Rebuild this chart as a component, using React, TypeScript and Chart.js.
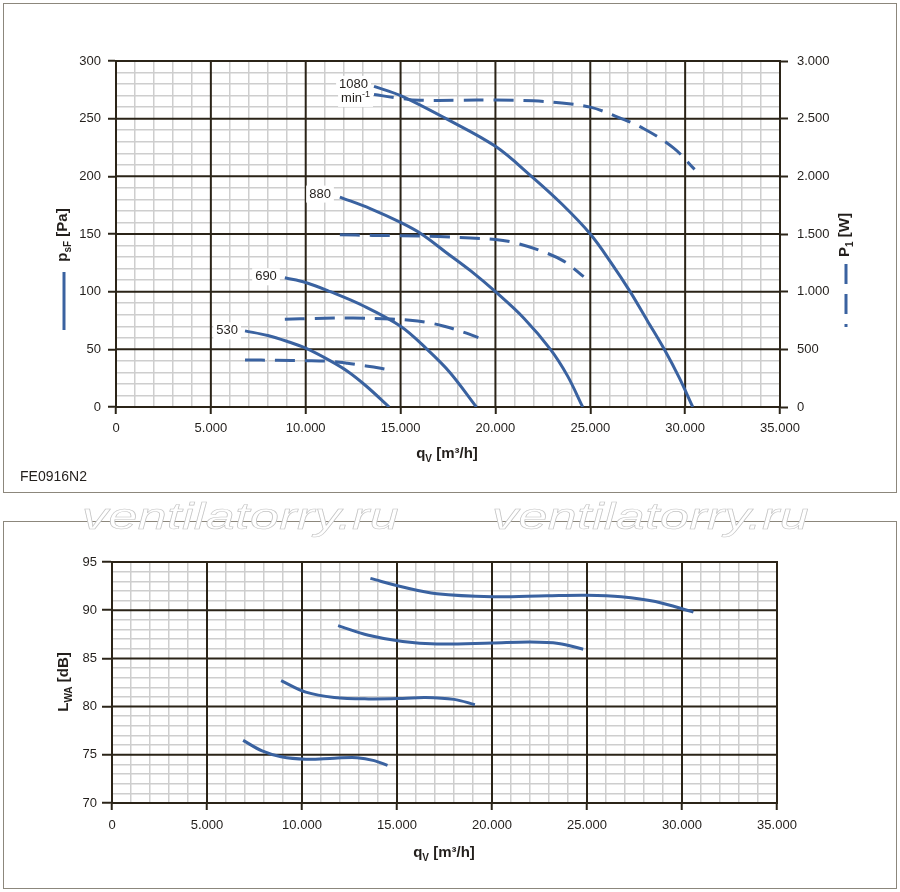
import React, { useEffect, useRef } from "react";
import { Chart, registerables } from "chart.js";

Chart.register(...registerables);

const FONT = '"Liberation Sans", Arial, Helvetica, sans-serif';
const INK = "#231f1c";
const GRID_DARK = "#2b2418";
const GRID_LIGHT = "#cecece";
const BLUE = "#3a62a0";

// speed labels (min-1)
const speeds = ["1080", "880", "690", "530"];

// static pressure psF [Pa] over qV [m3/h]
const qv1080 = [13600, 15000, 17400, 20000, 21900, 23500, 25000, 26100, 27100, 28000, 28900, 29700, 30400];
const ps1080 = [278, 270, 250, 226, 200, 176, 150, 125, 100, 75, 50, 25, 0];
const qv880 = [11800, 13400, 15000, 16100, 17400, 18700, 20000, 21500, 22900, 23800, 24600];
const ps880 = [182, 172, 160, 150, 134, 118, 100, 77, 50, 27, 0];
const qv690 = [8900, 10000, 11300, 13000, 15000, 16400, 17600, 19000];
const ps690 = [112, 108, 100, 88, 70, 50, 30, 0];
const qv530 = [6800, 8000, 9000, 10000, 11300, 12200, 13200, 14400];
const ps530 = [66, 62, 57, 51, 40, 31, 18, 0];

// input power P1 [W] over qV [m3/h]
const pq1080 = [13600, 15000, 16000, 18000, 20000, 22000, 23500, 25000, 26200, 27800, 29400, 30500];
const pw1080 = [2710, 2675, 2660, 2660, 2662, 2655, 2635, 2600, 2530, 2415, 2245, 2060];
const pq880 = [11800, 13500, 15000, 17000, 18700, 20000, 21000, 22300, 23600, 24650];
const pw880 = [1494, 1488, 1485, 1478, 1465, 1452, 1425, 1360, 1265, 1130];
const pq690 = [8900, 10500, 12500, 14500, 15500, 16500, 17300, 18200, 19100];
const pw690 = [760, 768, 772, 762, 752, 730, 700, 655, 602];
const pq530 = [6800, 8500, 10000, 11300, 12200, 13000, 13800, 14400];
const pw530 = [408, 405, 402, 396, 380, 360, 340, 322];

// sound power LWA [dB] over qV [m3/h]
const nq1080 = [13600, 15300, 17100, 20000, 22900, 25000, 26800, 28600, 30600];
const lw1080 = [93.3, 92.4, 91.7, 91.4, 91.5, 91.55, 91.4, 90.9, 89.8];
const nq880 = [11900, 13500, 15300, 17100, 20000, 22000, 23500, 24800];
const lw880 = [88.4, 87.4, 86.75, 86.5, 86.6, 86.7, 86.55, 85.95];
const nq690 = [8900, 10200, 11700, 13500, 15300, 16500, 18000, 19100];
const lw690 = [82.7, 81.5, 80.95, 80.8, 80.85, 80.95, 80.75, 80.2];
const nq530 = [6900, 7900, 8900, 10200, 11700, 12900, 13800, 14500];
const lw530 = [76.5, 75.4, 74.8, 74.55, 74.65, 74.7, 74.4, 73.9];

const pts = (xs: number[], ys: number[]) => xs.map((x, i) => ({ x, y: ys[i] }));

const fmt = (v: number) =>
  v < 1000 ? String(v) : `${Math.floor(v / 1000)}.${String(v % 1000).padStart(3, "0")}`;

function curve(xs: number[], ys: number[], dashed: boolean, axis = "y") {
  return {
    data: pts(xs, ys),
    borderColor: BLUE,
    borderWidth: 3,
    borderDash: dashed ? [20, 10] : [],
    pointRadius: 0,
    tension: 0.35,
    fill: false,
    yAxisID: axis,
  };
}

type Part = { t: string; sub?: boolean; sup?: boolean };

function rich(
  ctx: CanvasRenderingContext2D,
  parts: Part[],
  x: number,
  y: number,
  size: number,
  bold: boolean,
  align: "left" | "center" | "right" = "center",
  rot = 0,
  bg = false
) {
  ctx.save();
  ctx.translate(x, y);
  ctx.rotate(rot);
  const fontFor = (p: Part) =>
    `${bold ? "bold " : ""}${p.sub || p.sup ? Math.round(size * 0.68) : size}px ${FONT}`;
  let total = 0;
  const widths = parts.map((p) => {
    ctx.font = fontFor(p);
    const w = ctx.measureText(p.t).width;
    total += w;
    return w;
  });
  let cx = align === "center" ? -total / 2 : align === "right" ? -total : 0;
  if (bg) {
    ctx.fillStyle = "#ffffff";
    ctx.fillRect(cx - 3, -size / 2 - 2, total + 6, size + 4);
  }
  ctx.fillStyle = INK;
  ctx.textBaseline = "middle";
  ctx.textAlign = "left";
  parts.forEach((p, i) => {
    ctx.font = fontFor(p);
    const dy = p.sub ? size * 0.32 : p.sup ? -size * 0.3 : 0;
    ctx.fillText(p.t, cx, dy);
    cx += widths[i];
  });
  ctx.restore();
}

function majors(chart: any, xStep: number, yStep: number) {
  const { ctx, chartArea: a, scales } = chart;
  const xs = scales.x;
  const ys = scales.y;
  ctx.save();
  ctx.strokeStyle = GRID_DARK;
  ctx.lineWidth = 2;
  ctx.lineCap = "square";
  ctx.beginPath();
  for (let v = xs.min; v <= xs.max; v += xStep) {
    const px = xs.getPixelForValue(v);
    ctx.moveTo(px, a.top);
    ctx.lineTo(px, a.bottom);
  }
  for (let v = ys.min; v <= ys.max; v += yStep) {
    const py = ys.getPixelForValue(v);
    ctx.moveTo(a.left, py);
    ctx.lineTo(a.right, py);
  }
  ctx.stroke();
  ctx.restore();
}

function vline(ctx: CanvasRenderingContext2D, x: number, y1: number, y2: number, dash: number[]) {
  ctx.save();
  ctx.strokeStyle = BLUE;
  ctx.lineWidth = 3;
  ctx.setLineDash(dash);
  ctx.beginPath();
  ctx.moveTo(x, y1);
  ctx.lineTo(x, y2);
  ctx.stroke();
  ctx.restore();
}

function xAxis(stepMajor: number, height: number, pad: number) {
  return {
    type: "linear",
    min: 0,
    max: 35000,
    ticks: {
      stepSize: 1000,
      autoSkip: false,
      maxRotation: 0,
      minRotation: 0,
      padding: pad,
      color: INK,
      font: { family: FONT, size: 13 },
      callback: (v: number) => (v % stepMajor === 0 ? fmt(v) : ""),
    },
    grid: {
      color: (c: any) => (c.tick && c.tick.value % stepMajor === 0 ? "transparent" : GRID_LIGHT),
      lineWidth: 1.5,
      tickLength: 7,
      tickWidth: 2,
      tickColor: (c: any) => (c.tick && c.tick.value % stepMajor === 0 ? GRID_DARK : "transparent"),
    },
    border: { color: GRID_DARK, width: 2 },
    afterFit: (s: any) => {
      s.height = height;
    },
  };
}

function yAxis(min: number, max: number, step: number, major: number, width: number, tick: number, pad: number) {
  return {
    type: "linear",
    position: "left",
    min,
    max,
    ticks: {
      stepSize: step,
      autoSkip: false,
      padding: pad,
      color: INK,
      font: { family: FONT, size: 13 },
      callback: (v: number) => (v % major === 0 ? String(v) : ""),
    },
    grid: {
      color: (c: any) => (c.tick && c.tick.value % major === 0 ? "transparent" : GRID_LIGHT),
      lineWidth: 1.5,
      tickLength: tick,
      tickWidth: 2,
      tickColor: (c: any) => (c.tick && c.tick.value % major === 0 ? GRID_DARK : "transparent"),
    },
    border: { color: GRID_DARK, width: 2 },
    afterFit: (s: any) => {
      s.width = width;
    },
  };
}

const qvTitle: Part[] = [{ t: "q" }, { t: "V", sub: true }, { t: " [m³/h]" }];

function App() {
  const topRef = useRef<HTMLCanvasElement>(null);
  const botRef = useRef<HTMLCanvasElement>(null);

  useEffect(() => {
    const pressure = [
      [qv1080, ps1080],
      [qv880, ps880],
      [qv690, ps690],
      [qv530, ps530],
    ];
    // label offsets (px) relative to the first point of each curve
    const labelOffset = [
      [-6, -2],
      [-9, -3],
      [-8, -1],
      [-7, 0],
    ];

    const topDecor = {
      id: "topDecor",
      beforeDatasetsDraw(chart: any) {
        majors(chart, 5000, 50);
      },
      afterDatasetsDraw(chart: any) {
        const { ctx, scales } = chart;
        pressure.forEach(([q, p], i) => {
          const px = scales.x.getPixelForValue(q[0]);
          const py = scales.y.getPixelForValue(p[0]);
          rich(ctx, [{ t: speeds[i] }], px + labelOffset[i][0], py + labelOffset[i][1], 13, false, "right", 0, true);
          if (i === 0) {
            rich(ctx, [{ t: "min" }, { t: "-1", sup: true }], px - 4, py + 12, 13, false, "right", 0, true);
          }
        });
        rich(ctx, [{ t: "p" }, { t: "sF", sub: true }, { t: " [Pa]" }], 63, 235, 15, true, "center", -Math.PI / 2);
        vline(ctx, 64, 272, 330, []);
        rich(ctx, [{ t: "P" }, { t: "1", sub: true }, { t: " [W]" }], 845, 235, 15, true, "center", -Math.PI / 2);
        vline(ctx, 846, 264, 327, [20, 10]);
        rich(ctx, qvTitle, 447, 454, 15, true);
        rich(ctx, [{ t: "FE0916N2" }], 20, 477, 14, false, "left");
      },
    };

    const top = new Chart(topRef.current!, {
      type: "line",
      data: {
        datasets: [
          curve(qv1080, ps1080, false),
          curve(qv880, ps880, false),
          curve(qv690, ps690, false),
          curve(qv530, ps530, false),
          curve(pq1080, pw1080, true, "yW"),
          curve(pq880, pw880, true, "yW"),
          curve(pq690, pw690, true, "yW"),
          curve(pq530, pw530, true, "yW"),
        ],
      } as any,
      options: {
        responsive: false,
        animation: false,
        devicePixelRatio: 1,
        layout: { padding: { top: 61, left: 0, right: 0, bottom: 0 } },
        plugins: { legend: { display: false }, tooltip: { enabled: false } },
        scales: {
          x: xAxis(5000, 88, 7),
          y: yAxis(0, 300, 10, 50, 116, 8, 7),
          yW: {
            type: "linear",
            position: "right",
            min: 0,
            max: 3000,
            ticks: {
              stepSize: 500,
              padding: 9,
              color: INK,
              font: { family: FONT, size: 13 },
              callback: (v: number) => fmt(v),
            },
            grid: { drawOnChartArea: false, tickLength: 8, tickWidth: 2, tickColor: GRID_DARK },
            border: { color: GRID_DARK, width: 2 },
            afterFit: (s: any) => {
              s.width = 120;
            },
          },
        },
      } as any,
      plugins: [topDecor],
    });

    const botDecor = {
      id: "botDecor",
      beforeDatasetsDraw(chart: any) {
        majors(chart, 5000, 5);
      },
      afterDatasetsDraw(chart: any) {
        const { ctx } = chart;
        rich(ctx, qvTitle, 444, 332, 15, true);
        rich(ctx, [{ t: "L" }, { t: "WA", sub: true }, { t: " [dB]" }], 64, 161, 15, true, "center", -Math.PI / 2);
      },
    };

    const bot = new Chart(botRef.current!, {
      type: "line",
      data: {
        datasets: [
          curve(nq1080, lw1080, false),
          curve(nq880, lw880, false),
          curve(nq690, lw690, false),
          curve(nq530, lw530, false),
        ],
      } as any,
      options: {
        responsive: false,
        animation: false,
        devicePixelRatio: 1,
        layout: { padding: { top: 41, left: 0, right: 123, bottom: 0 } },
        plugins: { legend: { display: false }, tooltip: { enabled: false } },
        scales: {
          x: xAxis(5000, 86, 8),
          y: yAxis(70, 95, 1, 5, 112, 10, 5),
        },
      } as any,
      plugins: [botDecor],
    });

    return () => {
      top.destroy();
      bot.destroy();
    };
  }, []);

  const mark: React.CSSProperties = {
    position: "absolute",
    top: 497,
    font: `italic 52px ${FONT}`,
    lineHeight: "52px",
    letterSpacing: "0.4px",
    color: "#ffffff",
    WebkitTextStroke: "0.8px #c4c4c4",
    transform: "scaleY(0.72)",
    transformOrigin: "left top",
    whiteSpace: "nowrap",
    zIndex: 3,
  };

  return (
    <div style={{ position: "absolute", left: 0, top: 0, width: 900, height: 892, background: "#fff" }}>
      <div
        style={{
          position: "absolute",
          left: 3,
          top: 3,
          width: 894,
          height: 490,
          border: "1.5px solid #8c877c",
          boxSizing: "border-box",
        }}
      />
      <div
        style={{
          position: "absolute",
          left: 3,
          top: 521,
          width: 894,
          height: 368,
          border: "1.5px solid #8c877c",
          boxSizing: "border-box",
        }}
      />
      <canvas
        ref={topRef}
        width={900}
        height={495}
        style={{ position: "absolute", left: 0, top: 0, width: 900, height: 495, zIndex: 1 }}
      />
      <canvas
        ref={botRef}
        width={900}
        height={368}
        style={{ position: "absolute", left: 0, top: 521, width: 900, height: 368, zIndex: 1 }}
      />
      <div style={{ ...mark, left: 82 }}>ventilatorry.ru</div>
      <div style={{ ...mark, left: 492 }}>ventilatorry.ru</div>
    </div>
  );
}

export default App;
